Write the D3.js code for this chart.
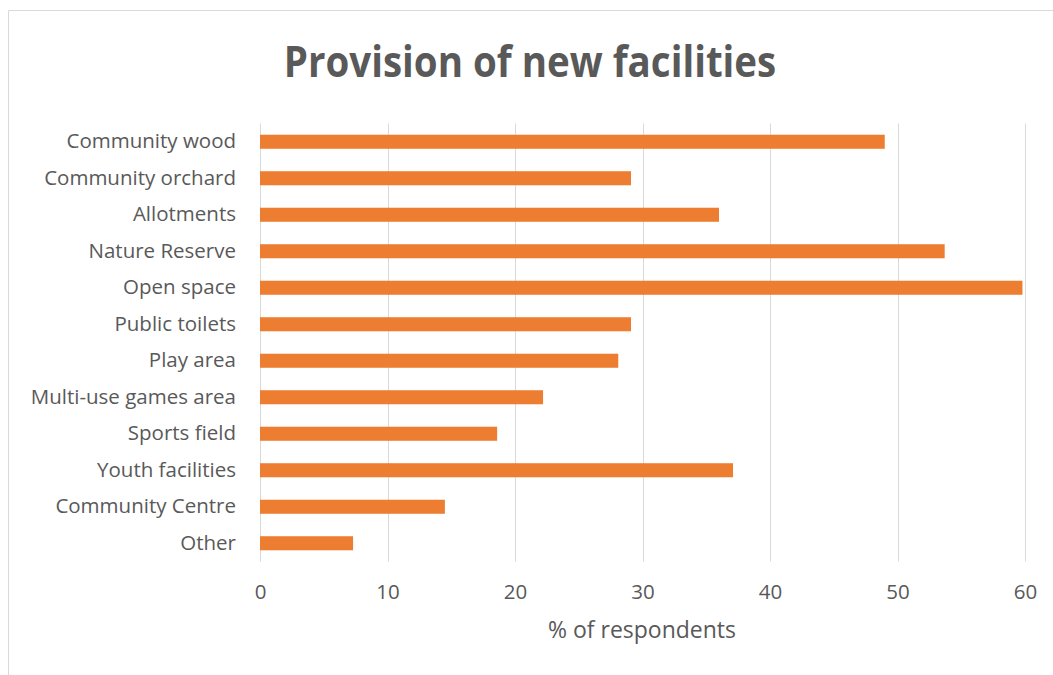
<!DOCTYPE html>
<html>
<head>
<meta charset="utf-8">
<script src="https://cdn.jsdelivr.net/npm/d3@7"></script>
<style>
  html, body { margin: 0; padding: 0; background: #ffffff; }
  svg { display: block; }
  text { font-family: "Open Sans", "Noto Sans", sans-serif; fill: #595959; }
</style>
</head>
<body>
<svg id="chart" width="1053" height="675"></svg>
<script>
// Facilities asked about, top to bottom
const categories = [
  "Community wood", "Community orchard", "Allotments", "Nature Reserve",
  "Open space", "Public toilets", "Play area", "Multi-use games area",
  "Sports field", "Youth facilities", "Community Centre", "Other"
];
// Share of respondents wanting each facility (%)
const percentages = [49.0, 29.1, 36.0, 53.7, 59.8, 29.1, 28.1, 22.2, 18.6, 37.1, 14.5, 7.3];
const xTicks = [0, 10, 20, 30, 40, 50, 60];
const chartTitle = "Provision of new facilities";
const xAxisTitle = "% of respondents";

const W = 1053, H = 675;
const margin = { top: 123.5, right: 28, bottom: 113.5, left: 260 };
const svg = d3.select("#chart");

// outer chart frame
svg.append("path")
  .attr("d", `M8.5,${H} V10.5 H${W}`)
  .attr("fill", "none")
  .attr("stroke", "#d9d9d9")
  .attr("stroke-width", 1);

const x = d3.scaleLinear().domain([0, 60]).range([margin.left, W - margin.right]);
const y = d3.scaleBand().domain(categories)
  .range([margin.top, H - margin.bottom])
  .paddingInner(0.615).paddingOuter(0.3075);

// vertical gridlines
svg.append("g").selectAll("line").data(xTicks).join("line")
  .attr("x1", d => Math.round(x(d)) + 0.5).attr("x2", d => Math.round(x(d)) + 0.5)
  .attr("y1", margin.top).attr("y2", H - margin.bottom)
  .attr("stroke", "#d9d9d9").attr("stroke-width", 1);

// bars
svg.append("g").selectAll("rect").data(categories).join("rect")
  .attr("x", x(0))
  .attr("y", d => y(d))
  .attr("width", (d, i) => x(percentages[i]) - x(0))
  .attr("height", y.bandwidth())
  .attr("fill", "#ED7D31");

// x axis tick labels
const xAxis = d3.axisBottom(x).tickValues(xTicks).tickSize(0).tickPadding(0);
const gx = svg.append("g")
  .attr("transform", `translate(0,599)`)
  .call(xAxis);
gx.select(".domain").remove();
gx.selectAll("text")
  .attr("dy", 0)
  .style("font-size", "20.5px")
  .style("font-family", "\"Open Sans\", sans-serif")
  .attr("fill", "#595959");

// category labels
const yAxis = d3.axisLeft(y).tickSize(0).tickPadding(24);
const gy = svg.append("g")
  .attr("transform", `translate(${margin.left},0)`)
  .call(yAxis);
gy.select(".domain").remove();
gy.selectAll("text")
  .style("font-size", "20.5px")
  .style("font-family", "\"Open Sans\", sans-serif")
  .attr("fill", "#595959");

// title (slightly tall lettering)
svg.append("text")
  .attr("transform", "translate(530,77) scale(1,1.1)")
  .attr("text-anchor", "middle")
  .style("font-size", "38.5px")
  .style("font-weight", "bold")
  .text(chartTitle);

// x axis title
svg.append("text")
  .attr("x", 642).attr("y", 638)
  .attr("text-anchor", "middle")
  .style("font-size", "23px")
  .text(xAxisTitle);
</script>
</body>
</html>
